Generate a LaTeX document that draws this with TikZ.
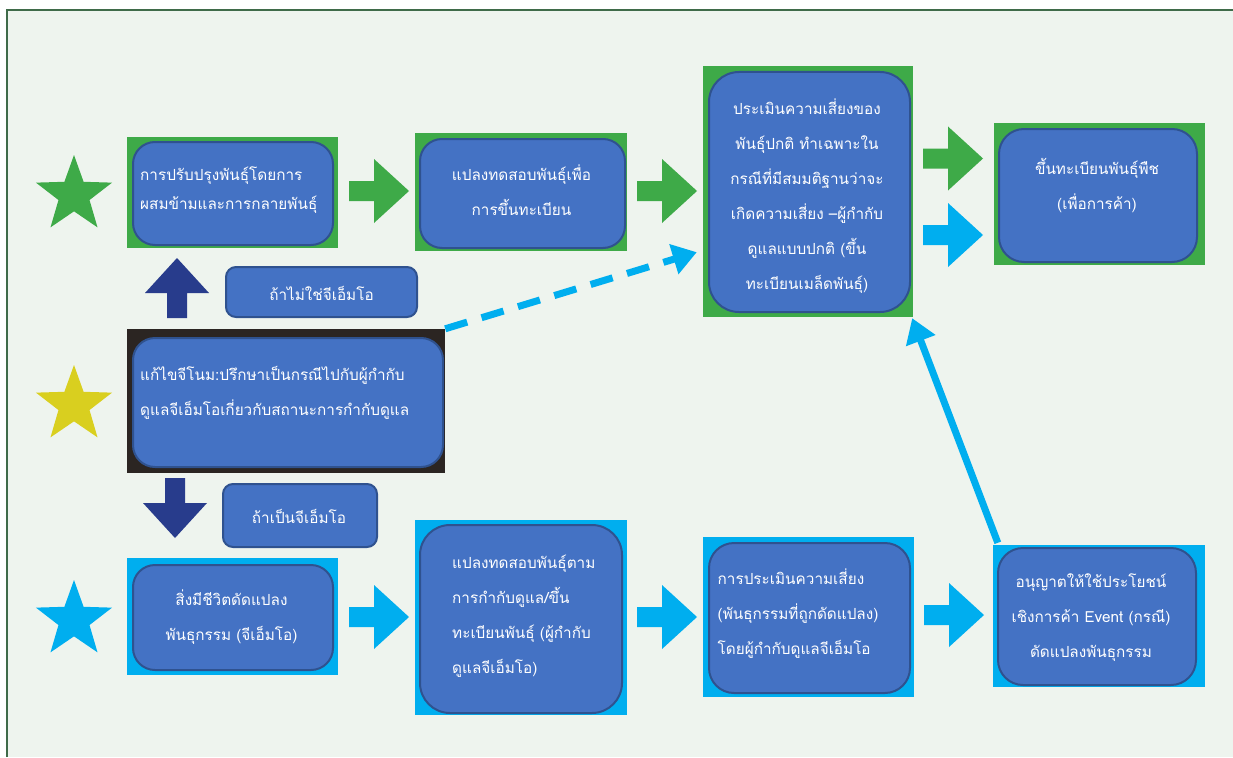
\documentclass[tikz,border=0pt]{standalone}
\usepackage{fontspec}
\newfontfamily\thaifont[Script=Thai]{Loma}
\usetikzlibrary{shapes.geometric,arrows.meta}

\definecolor{leafgreen}{HTML}{3EAA48}
\definecolor{skyblue}{HTML}{00AEEF}
\definecolor{panelblue}{HTML}{4472C4}
\definecolor{paneledge}{HTML}{2F528F}
\definecolor{navy}{HTML}{283C8C}
\definecolor{coal}{HTML}{2B2522}
\definecolor{mustard}{HTML}{D9CF1F}
\definecolor{paper}{HTML}{EEF4EE}
\definecolor{rim}{HTML}{3F6B49}

\newcommand{\thaitext}{\thaifont\fontsize{15.3}{35}\selectfont}

\tikzset{
  backing/.style={inner sep=0pt},
  panel/.style={inner sep=0pt, fill=panelblue, draw=paneledge, line width=2pt, rounded corners=22pt},
  tag/.style={panel, rounded corners=10pt},
  txt/.style={inner sep=0pt, text=white, font=\thaitext},
  flag/.style={star, star points=5, star point ratio=2.45, minimum size=80pt, inner sep=0pt},
  dashlink/.style={skyblue, line width=7pt, dash pattern=on 23pt off 15pt, -{Triangle[length=24pt,width=30pt]}},
  riselink/.style={skyblue, line width=7pt, -{Triangle[length=24pt,width=30pt]}},
  blockarrow/.pic={\path[pic actions] (0,-10) -- (25,-10) -- (25,-32) -- (60,0) -- (25,32) -- (25,10) -- (0,10) -- cycle;}
}

\begin{document}
\begin{tikzpicture}[x=1pt, y=-1pt]
        \useasboundingbox (0,0) rectangle (1233,757);
        %%paper and frame
        \fill[white] (0,0) rectangle (1233,757);
        \fill[paper] (7,10) rectangle (1233,757);
        \draw[rim, line width=2.5pt] (7,757) -- (7,10) -- (1233,10);

        %%stars
        \node[flag, fill=leafgreen] (greenstar) at (74,195){};
        \node[flag, fill=mustard] (yellowstar) at (74,405){};
        \node[flag, fill=skyblue] (bluestar) at (74,620){};

        %%top row
        \node[backing, fill=leafgreen, minimum width=211pt, minimum height=111pt] (breed) at (232.5,192.5){};
        \node[panel, minimum width=200pt, minimum height=103pt] (breedin) at (233,193.5){};
            \node[txt, anchor=west, align=left, font=\thaitext\fontsize{15.3}{29}\selectfont] (breedtxt) at (140,190.5){การปรับปรุงพันธุ์โดยการ\\ผสมข้ามและการกลายพันธุ์};
        \node[backing, fill=leafgreen, minimum width=212pt, minimum height=118pt] (trial) at (521,192){};
        \node[panel, minimum width=205pt, minimum height=109pt] (trialin) at (522.5,193.5){};
            \node[txt, align=center] (trialtxt) at (521.5,190.5){แปลงทดสอบพันธุ์เพื่อ\\การขึ้นทะเบียน};
        \node[backing, fill=leafgreen, minimum width=210pt, minimum height=251pt] (risk) at (808,191.5){};
        \node[panel, rounded corners=30pt, minimum width=201pt, minimum height=240pt] (riskin) at (809.5,192){};
            \node[txt, align=center] (risktxt) at (807,196){ประเมินความเสี่ยงของ\\พันธุ์ปกติ ทำเฉพาะใน\\กรณีที่มีสมมติฐานว่าจะ\\เกิดความเสี่ยง –ผู้กำกับ\\ดูแลแบบปกติ (ขึ้น\\ทะเบียนเมล็ดพันธุ์)};
        \node[backing, fill=leafgreen, minimum width=211pt, minimum height=142pt] (reg) at (1099.5,194){};
        \node[panel, rounded corners=25pt, minimum width=198pt, minimum height=133pt] (regin) at (1098,195.5){};
            \node[txt, align=center] (regtxt) at (1097,185.5){ขึ้นทะเบียนพันธุ์พืช\\(เพื่อการค้า)};

        %%middle row
        \node[tag, minimum width=191pt, minimum height=50pt] (nogmo) at (321.5,292){};
            \node[txt] (nogmotxt) at (321.5,293){ถ้าไม่ใช่จีเอ็มโอ};
        \node[backing, fill=coal, minimum width=318pt, minimum height=144pt] (edit) at (286,401){};
        \node[panel, minimum width=310pt, minimum height=129pt] (editin) at (288,402.5){};
            \node[txt, anchor=west, align=left] (edittxt) at (140,392.5){แก้ไขจีโนม:ปรึกษาเป็นกรณีไปกับผู้กำกับ\\ดูแลจีเอ็มโอเกี่ยวกับสถานะการกำกับดูแล};
        \node[tag, minimum width=154pt, minimum height=63pt] (isgmo) at (300,515.5){};
            \node[txt] (isgmotxt) at (299,516){ถ้าเป็นจีเอ็มโอ};

        %%bottom row
        \node[backing, fill=skyblue, minimum width=211pt, minimum height=117pt] (gmo) at (232.5,616.5){};
        \node[panel, minimum width=200pt, minimum height=105pt] (gmoin) at (233,617.5){};
            \node[txt, align=center] (gmotxt) at (231.5,617.5){สิ่งมีชีวิตดัดแปลง\\พันธุกรรม (จีเอ็มโอ)};
        \node[backing, fill=skyblue, minimum width=212pt, minimum height=195pt] (trialgmo) at (521,617.5){};
        \node[panel, rounded corners=30pt, minimum width=202pt, minimum height=188pt] (trialgmoin) at (521,619){};
            \node[txt, anchor=west, align=left] (trialgmotxt) at (452,616.5){แปลงทดสอบพันธุ์ตาม\\การกำกับดูแล/ขึ้น\\ทะเบียนพันธุ์ (ผู้กำกับ\\ดูแลจีเอ็มโอ)};
        \node[backing, fill=skyblue, minimum width=211pt, minimum height=160pt] (riskgmo) at (808.5,617){};
        \node[panel, rounded corners=25pt, minimum width=201pt, minimum height=150pt] (riskgmoin) at (809.5,618){};
            \node[txt, anchor=west, align=left] (riskgmotxt) at (717.5,614){การประเมินความเสี่ยง\\(พันธุกรรมที่ถูกดัดแปลง)\\โดยผู้กำกับดูแลจีเอ็มโอ};
        \node[backing, fill=skyblue, minimum width=212pt, minimum height=142pt] (permit) at (1099,616){};
        \node[panel, rounded corners=25pt, minimum width=198pt, minimum height=137pt] (permitin) at (1097,616.5){};
            \node[txt, align=center] (permittxt) at (1091,618){อนุญาตให้ใช้ประโยชน์\\เชิงการค้า Event (กรณี)\\ดัดแปลงพันธุกรรม};

        %%block arrows
        \pic[fill=leafgreen] at (349,191){blockarrow};
        \pic[fill=leafgreen] at (637,191){blockarrow};
        \pic[fill=leafgreen] at (923,158.5){blockarrow};
        \pic[fill=skyblue] at (923,235){blockarrow};
        \pic[fill=navy, rotate=90] at (177,318){blockarrow};
        \pic[fill=navy, rotate=-90] at (175,478){blockarrow};
        \pic[fill=skyblue] at (349,617){blockarrow};
        \pic[fill=skyblue] at (637,617){blockarrow};
        \pic[fill=skyblue] at (924,615){blockarrow};

        %%links
        \draw[dashlink] (edit.north east) -- ([xshift=-6pt, yshift=65pt]risk.south west);
        \draw[riselink] ([xshift=5pt, yshift=2pt]permit.north west) -- ([xshift=-1pt, yshift=-1pt]risk.south east);

    \end{tikzpicture}
\end{document}
